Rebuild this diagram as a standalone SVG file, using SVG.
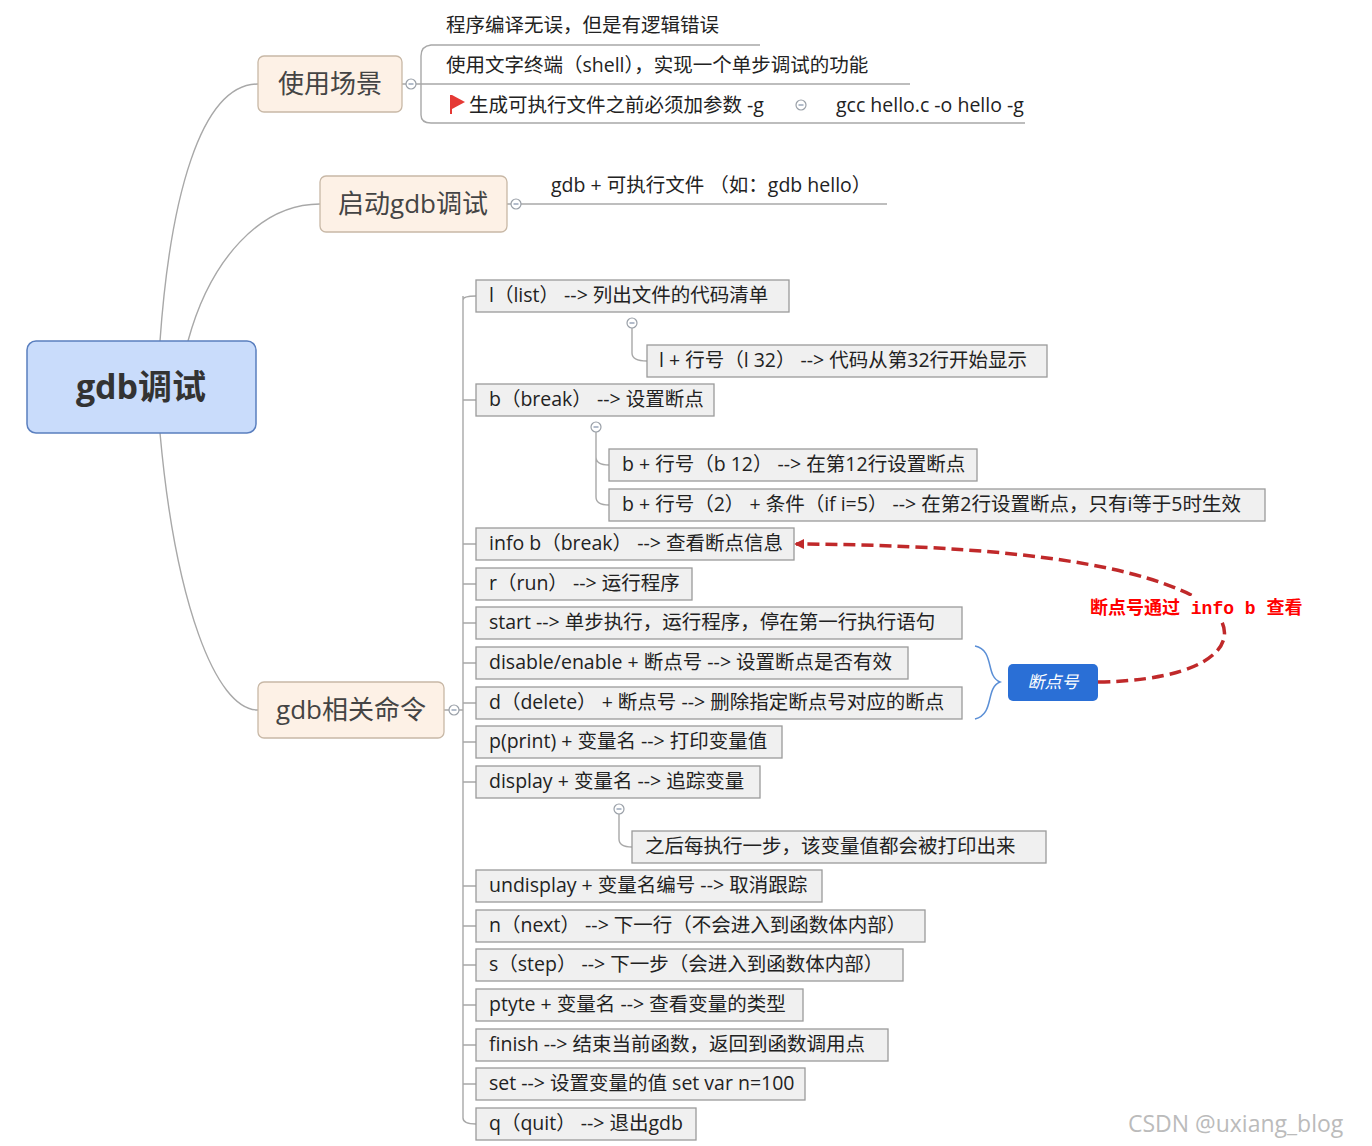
<svg xmlns="http://www.w3.org/2000/svg" width="1372" height="1146" viewBox="0 0 1372 1146">
<style>
text{font-family:"Open Sans","Noto Sans CJK SC",sans-serif;fill:#222}
.b rect{fill:#f0f0f0;stroke:#9a9a9a;stroke-width:1.3}
.b text{font-size:19.5px}
.t{fill:#fdf1e6;stroke:#c8b8a6;stroke-width:1.3}
.tt{font-size:26px;fill:#444}
.l{fill:none;stroke:#a8a8a8;stroke-width:1.4}
.c{fill:#fff;stroke:#9aa0a8;stroke-width:1.2}
.m{stroke:#8090a8;stroke-width:1.2}
.s{font-size:19.5px}
</style>
<defs><marker id="ar" markerWidth="10" markerHeight="10" refX="8" refY="5" orient="auto" markerUnits="userSpaceOnUse" viewBox="0 0 10 10"><path d="M0 0L10 5L0 10z" fill="#c0292a"/></marker></defs>
<rect width="1372" height="1146" fill="#fff"/>
<g id="connectors">
<path class="l" d="M160 341C170 200 200 84 258 84"/>
<path class="l" d="M188 341C210 260 260 204 320 204"/>
<path class="l" d="M160 433C175 600 215 710 258 710"/>
<path class="l" d="M402 84H421M421 84V56Q421 46 431 45H760M421 84H910M421 84V115Q421 123 431 123H1025"/>
<path class="l" d="M507 204H887"/>
<path class="l" d="M444 710H463M463 300Q463 296 476 296M463 296V1118Q463 1124 476 1124"/>
<path class="l" d="M463 400H476M463 544H476M463 584H476M463 623H476M463 663H476M463 703H476M463 742H476M463 782H476M463 886H476M463 926H476M463 965H476M463 1005H476M463 1045H476M463 1084H476"/>
<path class="l" d="M632 323V353Q632 361 647 361"/>
<path class="l" d="M596 427V497Q596 505 609 505M596 457Q596 465 609 465"/>
<path class="l" d="M619 809V839Q619 847 632 847"/>
<g>
<circle class="c" cx="411" cy="84" r="5"/><path class="m" d="M408.5 84H413.5"/>
<circle class="c" cx="516" cy="204" r="5"/><path class="m" d="M513.5 204H518.5"/>
<circle class="c" cx="454" cy="710" r="5"/><path class="m" d="M451.5 710H456.5"/>
<circle class="c" cx="632" cy="323" r="5"/><path class="m" d="M629.5 323H634.5"/>
<circle class="c" cx="596" cy="427" r="5"/><path class="m" d="M593.5 427H598.5"/>
<circle class="c" cx="619" cy="809" r="5"/><path class="m" d="M616.5 809H621.5"/>
<circle class="c" cx="801" cy="105" r="5"/><path class="m" d="M798.5 105H803.5"/>
</g>
<path d="M975 646C995 650 985 676 1000 682C985 688 995 714 975 719" fill="none" stroke="#5b8fd6" stroke-width="1.5"/>
<path d="M1098 682C1240 680 1255 620 1180 590C1100 555 950 545 796 544" fill="none" stroke="#c0292a" stroke-width="3.5" stroke-dasharray="12 6" marker-end="url(#ar)"/>
</g>
<g id="root"><rect x="27" y="341" width="229" height="92" rx="9" fill="#c9dcfb" stroke="#5a7fbf" stroke-width="1.5"/><text x="141" y="399" text-anchor="middle" font-size="34" font-weight="bold" style="fill:#333">gdb调试</text></g>
<g id="n1"><rect class="t" x="258" y="56" width="144" height="56" rx="6"/><text class="tt" x="330" y="93" text-anchor="middle">使用场景</text></g>
<g id="n2"><rect class="t" x="320" y="176" width="187" height="56" rx="6"/><text class="tt" x="413" y="213" text-anchor="middle">启动gdb调试</text></g>
<g id="n3"><rect class="t" x="258" y="682" width="186" height="56" rx="6"/><text class="tt" x="351" y="719" text-anchor="middle">gdb相关命令</text></g>
<g id="u1"><text class="s" x="446" y="32">程序编译无误，但是有逻辑错误</text></g>
<g id="u2"><text class="s" x="446" y="72">使用文字终端（shell），实现一个单步调试的功能</text></g>
<g id="u3"><path d="M451 95V114" stroke="#e53935" stroke-width="2"/><path d="M452 95L465 102L452 109z" fill="#e53935"/><text class="s" x="469" y="112">生成可执行文件之前必须加参数 -g</text><text class="s" x="836" y="112">gcc hello.c -o hello -g</text></g>
<g id="q1"><text class="s" x="551" y="192">gdb + 可执行文件 （如：gdb hello）</text></g>
<g class="b" id="c1"><rect x="476" y="280" width="313" height="32"/><text x="489" y="302">l（list） --&gt; 列出文件的代码清单</text></g>
<g class="b" id="c2"><rect x="647" y="345" width="400" height="32"/><text x="659" y="367">l + 行号（l 32） --&gt; 代码从第32行开始显示</text></g>
<g class="b" id="c3"><rect x="476" y="384" width="238" height="32"/><text x="489" y="406">b（break） --&gt; 设置断点</text></g>
<g class="b" id="c4"><rect x="609" y="449" width="368" height="32"/><text x="622" y="471">b + 行号（b 12） --&gt; 在第12行设置断点</text></g>
<g class="b" id="c5"><rect x="609" y="489" width="656" height="32"/><text x="622" y="511">b + 行号（2） + 条件（if i=5） --&gt; 在第2行设置断点，只有i等于5时生效</text></g>
<g class="b" id="c6"><rect x="476" y="528" width="318" height="32"/><text x="489" y="550">info b（break） --&gt; 查看断点信息</text></g>
<g class="b" id="c7"><rect x="476" y="568" width="216" height="32"/><text x="489" y="590">r（run） --&gt; 运行程序</text></g>
<g class="b" id="c8"><rect x="476" y="607" width="486" height="32"/><text x="489" y="629">start --&gt; 单步执行，运行程序，停在第一行执行语句</text></g>
<g class="b" id="c9"><rect x="476" y="647" width="432" height="32"/><text x="489" y="669">disable/enable + 断点号 --&gt; 设置断点是否有效</text></g>
<g class="b" id="c10"><rect x="476" y="687" width="486" height="32"/><text x="489" y="709">d（delete） + 断点号 --&gt; 删除指定断点号对应的断点</text></g>
<g class="b" id="c11"><rect x="476" y="726" width="306" height="32"/><text x="489" y="748">p(print) + 变量名 --&gt; 打印变量值</text></g>
<g class="b" id="c12"><rect x="476" y="766" width="284" height="32"/><text x="489" y="788">display + 变量名 --&gt; 追踪变量</text></g>
<g class="b" id="c13"><rect x="632" y="831" width="414" height="32"/><text x="645" y="853">之后每执行一步，该变量值都会被打印出来</text></g>
<g class="b" id="c14"><rect x="476" y="870" width="346" height="32"/><text x="489" y="892">undisplay + 变量名编号 --&gt; 取消跟踪</text></g>
<g class="b" id="c15"><rect x="476" y="910" width="449" height="32"/><text x="489" y="932">n（next） --&gt; 下一行（不会进入到函数体内部）</text></g>
<g class="b" id="c16"><rect x="476" y="949" width="427" height="32"/><text x="489" y="971">s（step） --&gt; 下一步（会进入到函数体内部）</text></g>
<g class="b" id="c17"><rect x="476" y="989" width="327" height="32"/><text x="489" y="1011">ptyte + 变量名 --&gt; 查看变量的类型</text></g>
<g class="b" id="c18"><rect x="476" y="1029" width="412" height="32"/><text x="489" y="1051">finish --&gt; 结束当前函数，返回到函数调用点</text></g>
<g class="b" id="c19"><rect x="476" y="1068" width="329" height="32"/><text x="489" y="1090">set --&gt; 设置变量的值 set var n=100</text></g>
<g class="b" id="c20"><rect x="476" y="1108" width="220" height="32"/><text x="489" y="1130">q（quit） --&gt; 退出gdb</text></g>
<g id="bp"><rect x="1008" y="664" width="90" height="37" rx="5" fill="#2a6fd6"/><text x="1053" y="688" text-anchor="middle" font-size="17" font-style="italic" style="fill:#fff">断点号</text></g>
<g id="lbl"><rect x="1088" y="596" width="244" height="24" fill="#fff"/><text x="1090" y="614" font-size="18" font-weight="bold" style="fill:#f00;font-family:'Liberation Mono','Noto Sans CJK SC',monospace">断点号通过 info b 查看</text></g>
<text x="1128" y="1132" font-size="23" style="fill:#bbb">CSDN @uxiang_blog</text>
</svg>
